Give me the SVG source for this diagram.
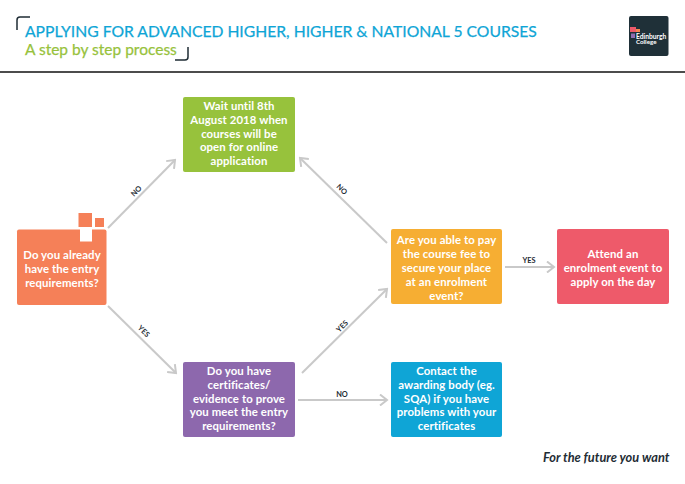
<svg xmlns="http://www.w3.org/2000/svg" width="685" height="484" viewBox="0 0 685 484">
<style>
text{font-family:Lato,"Liberation Sans",sans-serif}
.b{font-size:11.4px;font-weight:700;fill:#fff;text-anchor:middle;letter-spacing:.1px}
.l{font-size:7.4px;font-weight:700;fill:#1f2d35;text-anchor:middle}
.c{fill:none;stroke:#c9c9c9;stroke-width:2}
.br{fill:none;stroke:#1f2d35;stroke-width:1.5}
</style>
<defs><marker id="a" markerWidth="10" markerHeight="12" refX="8" refY="6" orient="auto" markerUnits="userSpaceOnUse"><path d="M1 0.5L8 6L1 11.5" fill="none" stroke="#c9c9c9" stroke-width="2"/></marker></defs>
<rect width="685" height="484" fill="#fff"/>
<g id="header">
<path class="br" d="M17 30V20Q17 17 20 17H30"/>
<path class="br" d="M188 47V57Q188 60 185 60H175"/>
<text x="25" y="36.5" font-size="15.7" fill="#0ea5d6" stroke="#0ea5d6" stroke-width=".25">APPLYING FOR ADVANCED HIGHER, HIGHER &amp; NATIONAL 5 COURSES</text>
<text x="25" y="54.5" font-size="15.5" fill="#97c23c" stroke="#97c23c" stroke-width=".25">A step by step process</text>
<line x1="0" y1="72" x2="685" y2="72" stroke="#111" stroke-width="1.6"/>
</g>
<g id="logo">
<rect x="629" y="16" width="39.5" height="40" rx="2" fill="#1f3038"/>
<rect x="630" y="27" width="6" height="5" fill="#ee5a6a"/>
<rect x="636" y="29" width="4" height="3" fill="#f5844f"/>
<rect x="631" y="33.5" width="4" height="4.5" fill="#8e6bb0"/>
<text x="636" y="38.5" font-size="6.7" font-weight="700" fill="#fff">Edinburgh</text>
<text x="636" y="44" font-size="6.2" font-weight="700" fill="#fff">College</text>
</g>
<g id="connectors">
<line class="c" x1="108" y1="228" x2="175" y2="160" marker-end="url(#a)"/>
<line class="c" x1="108" y1="306" x2="176" y2="373" marker-end="url(#a)"/>
<line class="c" x1="387" y1="243" x2="300" y2="158" marker-end="url(#a)"/>
<line class="c" x1="302" y1="373" x2="387" y2="289" marker-end="url(#a)"/>
<line class="c" x1="505" y1="267" x2="554" y2="267" marker-end="url(#a)"/>
<line class="c" x1="298" y1="400" x2="387" y2="400" marker-end="url(#a)"/>
<text class="l" transform="translate(138,193) rotate(-45)">NO</text>
<text class="l" transform="translate(142,333) rotate(45)">YES</text>
<text class="l" transform="translate(340,191) rotate(45)">NO</text>
<text class="l" transform="translate(344,328) rotate(-45)">YES</text>
<text class="l" x="529" y="263">YES</text>
<text class="l" x="342" y="397">NO</text>
</g>
<g id="n-entry">
<rect x="17" y="229.500" width="89.500" height="75.500" rx="2" fill="#f58058"/>
<rect x="78.500" y="213" width="13.500" height="14" fill="#f58058"/>
<rect x="95" y="218" width="9" height="9" fill="#f58058"/>
<rect x="80" y="227" width="12" height="14.500" fill="#fff"/>
<text class="b"><tspan x="62" y="259">Do you already</tspan><tspan x="62" y="273">have the entry</tspan><tspan x="62" y="287">requirements?</tspan></text>
</g>
<g id="n-wait">
<rect x="183" y="97" width="112" height="75" rx="2" fill="#97c23c"/>
<text class="b"><tspan x="239" y="110">Wait until 8th</tspan><tspan x="239" y="124">August 2018 when</tspan><tspan x="239" y="138">courses will be</tspan><tspan x="239" y="151">open for online</tspan><tspan x="239" y="165">application</tspan></text>
</g>
<g id="n-evidence">
<rect x="183" y="362" width="112" height="75" rx="2" fill="#8d68ad"/>
<text class="b"><tspan x="239" y="375">Do you have</tspan><tspan x="239" y="389">certificates/</tspan><tspan x="239" y="403">evidence to prove</tspan><tspan x="239" y="416">you meet the entry</tspan><tspan x="239" y="430">requirements?</tspan></text>
</g>
<g id="n-fee">
<rect x="391" y="229" width="111" height="75" rx="2" fill="#f6ae33"/>
<text class="b"><tspan x="446.500" y="244">Are you able to pay</tspan><tspan x="446.500" y="258">the course fee to</tspan><tspan x="446.500" y="272">secure your place</tspan><tspan x="446.500" y="285.500">at an enrolment</tspan><tspan x="446.500" y="299.500">event?</tspan></text>
</g>
<g id="n-attend">
<rect x="557" y="229" width="112" height="75" rx="2" fill="#ee5a6a"/>
<text class="b"><tspan x="613" y="258">Attend an</tspan><tspan x="613" y="272">enrolment event to</tspan><tspan x="613" y="286">apply on the day</tspan></text>
</g>
<g id="n-contact">
<rect x="391" y="362" width="111" height="75" rx="2" fill="#0fa5d6"/>
<text class="b"><tspan x="446.500" y="375">Contact the</tspan><tspan x="446.500" y="389">awarding body (eg.</tspan><tspan x="446.500" y="403">SQA) if you have</tspan><tspan x="446.500" y="416">problems with your</tspan><tspan x="446.500" y="430">certificates</tspan></text>
</g>
<text id="tagline" x="543" y="462" font-size="12.8" font-style="italic" font-weight="700" fill="#1f2d35">For the future you want</text>
</svg>
